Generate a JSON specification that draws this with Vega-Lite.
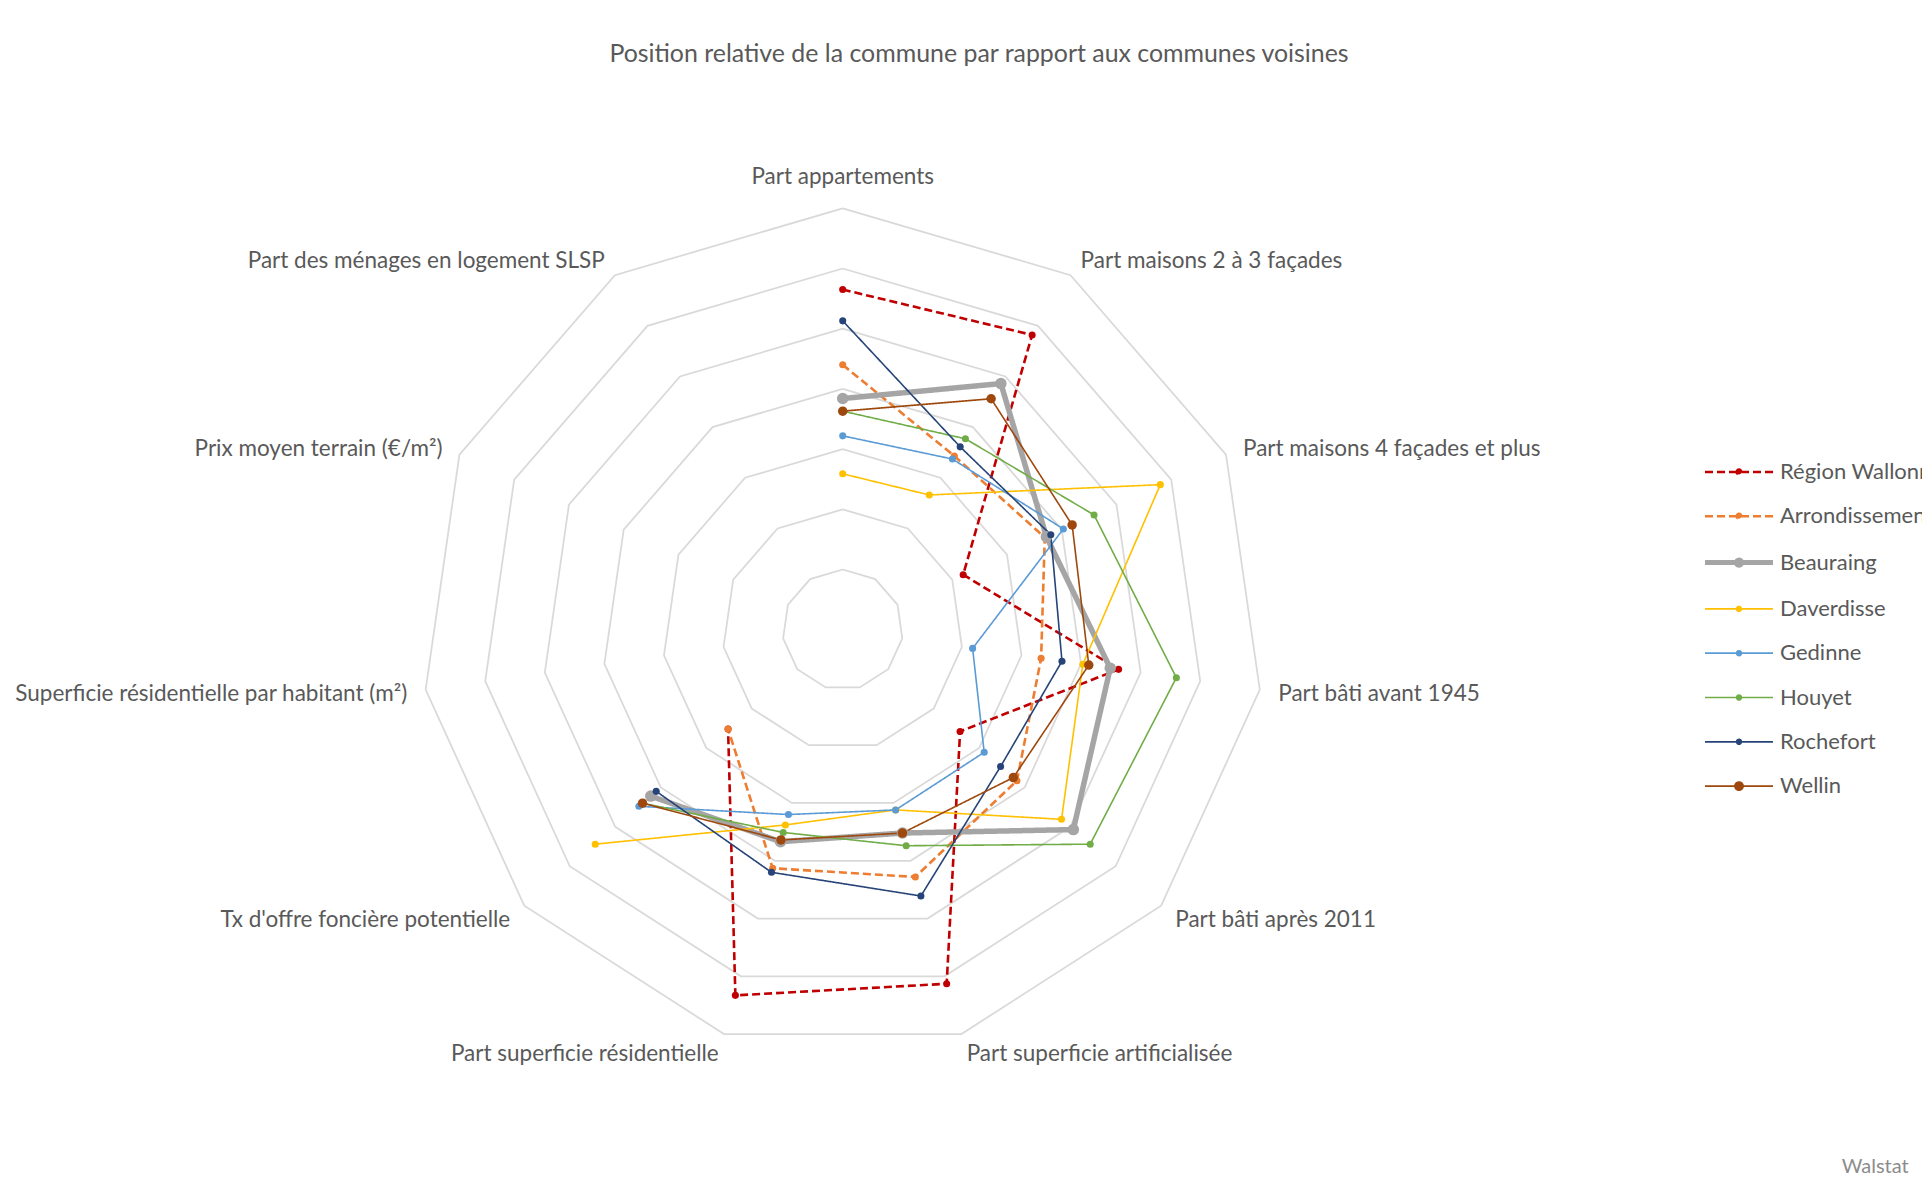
{
  "$schema": "https://vega.github.io/schema/vega-lite/v6.json",
  "width": 1922,
  "height": 1107,
  "autosize": {"type": "none"},
  "padding": {"top": 75, "left": 0, "right": 0, "bottom": 0},
  "config": {"view": {"stroke": null}, "font": "Lato"},
  "title": {
    "text": "Position relative de la commune par rapport aux communes voisines",
    "font": "Lato", "fontSize": 24.9, "fontWeight": "normal", "color": "#595959",
    "anchor": "middle", "frame": "group", "dx": 18, "offset": 8
  },
  "datasets": {
    "valeurs": [
      {"serie": "Région Wallonne", "k": 0, "v": 5.65}, {"serie": "Région Wallonne", "k": 1, "v": 5.82}, {"serie": "Région Wallonne", "k": 2, "v": 2.20}, {"serie": "Région Wallonne", "k": 3, "v": 4.63}, {"serie": "Région Wallonne", "k": 4, "v": 2.58}, {"serie": "Région Wallonne", "k": 5, "v": 6.13}, {"serie": "Région Wallonne", "k": 6, "v": 6.33}, {"serie": "Région Wallonne", "k": 7, "v": 2.52},
      {"serie": "Arrondissement de Dinant", "k": 0, "v": 4.40}, {"serie": "Arrondissement de Dinant", "k": 1, "v": 3.43}, {"serie": "Arrondissement de Dinant", "k": 2, "v": 3.69}, {"serie": "Arrondissement de Dinant", "k": 3, "v": 3.33}, {"serie": "Arrondissement de Dinant", "k": 4, "v": 3.83}, {"serie": "Arrondissement de Dinant", "k": 5, "v": 4.28}, {"serie": "Arrondissement de Dinant", "k": 6, "v": 4.13}, {"serie": "Arrondissement de Dinant", "k": 7, "v": 2.52},
      {"serie": "Beauraing", "k": 0, "v": 3.84}, {"serie": "Beauraing", "k": 1, "v": 4.86}, {"serie": "Beauraing", "k": 2, "v": 3.72}, {"serie": "Beauraing", "k": 3, "v": 4.49}, {"serie": "Beauraing", "k": 4, "v": 5.07}, {"serie": "Beauraing", "k": 5, "v": 3.52}, {"serie": "Beauraing", "k": 6, "v": 3.67}, {"serie": "Beauraing", "k": 7, "v": 4.22},
      {"serie": "Daverdisse", "k": 0, "v": 2.59}, {"serie": "Daverdisse", "k": 1, "v": 2.66}, {"serie": "Daverdisse", "k": 2, "v": 5.80}, {"serie": "Daverdisse", "k": 3, "v": 4.03}, {"serie": "Daverdisse", "k": 4, "v": 4.81}, {"serie": "Daverdisse", "k": 5, "v": 3.12}, {"serie": "Daverdisse", "k": 6, "v": 3.38}, {"serie": "Daverdisse", "k": 7, "v": 5.44},
      {"serie": "Gedinne", "k": 0, "v": 3.22}, {"serie": "Gedinne", "k": 1, "v": 3.37}, {"serie": "Gedinne", "k": 2, "v": 4.03}, {"serie": "Gedinne", "k": 3, "v": 2.18}, {"serie": "Gedinne", "k": 4, "v": 3.11}, {"serie": "Gedinne", "k": 5, "v": 3.12}, {"serie": "Gedinne", "k": 6, "v": 3.20}, {"serie": "Gedinne", "k": 7, "v": 4.48},
      {"serie": "Houyet", "k": 0, "v": 3.63}, {"serie": "Houyet", "k": 1, "v": 3.77}, {"serie": "Houyet", "k": 2, "v": 4.59}, {"serie": "Houyet", "k": 3, "v": 5.60}, {"serie": "Houyet", "k": 4, "v": 5.44}, {"serie": "Houyet", "k": 5, "v": 3.74}, {"serie": "Houyet", "k": 6, "v": 3.51}, {"serie": "Houyet", "k": 7, "v": 4.40},
      {"serie": "Rochefort", "k": 0, "v": 5.13}, {"serie": "Rochefort", "k": 1, "v": 3.61}, {"serie": "Rochefort", "k": 2, "v": 3.80}, {"serie": "Rochefort", "k": 3, "v": 3.68}, {"serie": "Rochefort", "k": 4, "v": 3.47}, {"serie": "Rochefort", "k": 5, "v": 4.61}, {"serie": "Rochefort", "k": 6, "v": 4.20}, {"serie": "Rochefort", "k": 7, "v": 4.10},
      {"serie": "Wellin", "k": 0, "v": 3.63}, {"serie": "Wellin", "k": 1, "v": 4.56}, {"serie": "Wellin", "k": 2, "v": 4.19}, {"serie": "Wellin", "k": 3, "v": 4.13}, {"serie": "Wellin", "k": 4, "v": 3.75}, {"serie": "Wellin", "k": 5, "v": 3.52}, {"serie": "Wellin", "k": 6, "v": 3.64}, {"serie": "Wellin", "k": 7, "v": 4.40}
    ],
    "anneaux": [
      {"niveau": 1, "k": [0,1,2,3,4,5,6,7,8,9,10,11]},
      {"niveau": 2, "k": [0,1,2,3,4,5,6,7,8,9,10,11]},
      {"niveau": 3, "k": [0,1,2,3,4,5,6,7,8,9,10,11]},
      {"niveau": 4, "k": [0,1,2,3,4,5,6,7,8,9,10,11]},
      {"niveau": 5, "k": [0,1,2,3,4,5,6,7,8,9,10,11]},
      {"niveau": 6, "k": [0,1,2,3,4,5,6,7,8,9,10,11]},
      {"niveau": 7, "k": [0,1,2,3,4,5,6,7,8,9,10,11]}
    ],
    "axes": [
      {"axe": "Part appartements", "k": 0},
      {"axe": "Part maisons 2 à 3 façades", "k": 1},
      {"axe": "Part maisons 4 façades et plus", "k": 2},
      {"axe": "Part bâti avant 1945", "k": 3},
      {"axe": "Part bâti après 2011", "k": 4},
      {"axe": "Part superficie artificialisée", "k": 5},
      {"axe": "Part superficie résidentielle", "k": 6},
      {"axe": "Tx d'offre foncière potentielle", "k": 7},
      {"axe": "Superficie résidentielle par habitant (m²)", "k": 8},
      {"axe": "Prix moyen terrain (€/m²)", "k": 9},
      {"axe": "Part des ménages en logement SLSP", "k": 10}
    ],
    "source": [{"texte": "Walstat"}]
  },
  "layer": [
    {
      "data": {"name": "anneaux"},
      "transform": [
        {"flatten": ["k"]},
        {"calculate": "datum.k * 2 * PI / 11", "as": "theta"},
        {"calculate": "datum.niveau * sin(datum.theta)", "as": "px"},
        {"calculate": "datum.niveau * cos(datum.theta)", "as": "py"}
      ],
      "mark": {"type": "line", "color": "#D9D9D9", "strokeWidth": 1.75},
      "encoding": {
        "x": {"field": "px", "type": "quantitative", "scale": {"domain": [-14.0, 17.93], "nice": false, "zero": false}, "axis": null},
        "y": {"field": "py", "type": "quantitative", "scale": {"domain": [-9.174, 9.214], "nice": false, "zero": false}, "axis": null},
        "detail": {"field": "niveau", "type": "nominal"},
        "order": {"field": "k", "type": "quantitative"}
      }
    },
    {
      "data": {"name": "valeurs"},
      "transform": [
        {"calculate": "datum.k * 2 * PI / 11", "as": "theta"},
        {"calculate": "datum.v * sin(datum.theta)", "as": "px"},
        {"calculate": "datum.v * cos(datum.theta)", "as": "py"}
      ],
      "mark": {"type": "line", "strokeJoin": "round"},
      "encoding": {
        "x": {"field": "px", "type": "quantitative", "scale": {"domain": [-14.0, 17.93], "nice": false, "zero": false}, "axis": null},
        "y": {"field": "py", "type": "quantitative", "scale": {"domain": [-9.174, 9.214], "nice": false, "zero": false}, "axis": null},
        "order": {"field": "k", "type": "quantitative"},
        "color": {
          "field": "serie", "type": "nominal",
          "scale": {
            "domain": ["Région Wallonne", "Arrondissement de Dinant", "Beauraing", "Daverdisse", "Gedinne", "Houyet", "Rochefort", "Wellin"],
            "range": ["#C00000", "#ED7D31", "#A5A5A5", "#FFC000", "#5B9BD5", "#70AD47", "#264478", "#9E480E"]
          },
          "legend": {
            "orient": "none", "legendX": 1728, "legendY": 386, "title": null,
            "labelFont": "Lato", "labelFontSize": 22, "labelColor": "#595959", "labelLimit": 0, "labelOffset": 30,
            "symbolSize": 4624, "symbolType": "stroke", "rowPadding": 22.3, "padding": 0,
            "encoding": {
              "symbols": {
                "shape": {"value": {"expr": "datum.value === 'Beauraing' ? 'M-1,0H1M-0.075,0A0.075,0.075,0,1,1,0.075,0A0.075,0.075,0,1,1,-0.075,0Z' : datum.value === 'Wellin' ? 'M-1,0H1M-0.12,0A0.12,0.12,0,1,1,0.12,0A0.12,0.12,0,1,1,-0.12,0Z' : 'M-1,0H1M-0.07,0A0.07,0.07,0,1,1,0.07,0A0.07,0.07,0,1,1,-0.07,0Z'"}},
                "fill": {"value": {"expr": "scale('color', datum.value)"}},
                "fillOpacity": {"value": 1},
                "strokeWidth": {"value": {"expr": "datum.value === 'Beauraing' ? 5 : (datum.value === 'Région Wallonne' || datum.value === 'Arrondissement de Dinant') ? 2.6 : 1.7"}},
                "strokeDash": {"value": {"expr": "(datum.value === 'Région Wallonne' || datum.value === 'Arrondissement de Dinant') ? [5,3] : [1,0]"}}
              }
            }
          }
        },
        "strokeDash": {
          "field": "serie", "type": "nominal",
          "scale": {
            "domain": ["Région Wallonne", "Arrondissement de Dinant", "Beauraing", "Daverdisse", "Gedinne", "Houyet", "Rochefort", "Wellin"],
            "range": [[8,4], [8,4], [1,0], [1,0], [1,0], [1,0], [1,0], [1,0]]
          },
          "legend": null
        },
        "strokeWidth": {
          "condition": [
            {"test": "datum.serie === 'Beauraing'", "value": 5.5},
            {"test": "datum.serie === 'Région Wallonne' || datum.serie === 'Arrondissement de Dinant'", "value": 2.6}
          ],
          "value": 1.6
        }
      }
    },
    {
      "data": {"name": "valeurs"},
      "transform": [
        {"calculate": "datum.k * 2 * PI / 11", "as": "theta"},
        {"calculate": "datum.v * sin(datum.theta)", "as": "px"},
        {"calculate": "datum.v * cos(datum.theta)", "as": "py"}
      ],
      "mark": {"type": "circle", "opacity": 1},
      "encoding": {
        "x": {"field": "px", "type": "quantitative", "scale": {"domain": [-14.0, 17.93], "nice": false, "zero": false}, "axis": null},
        "y": {"field": "py", "type": "quantitative", "scale": {"domain": [-9.174, 9.214], "nice": false, "zero": false}, "axis": null},
        "color": {"field": "serie", "type": "nominal"},
        "size": {
          "condition": [
            {"test": "datum.serie === 'Beauraing'", "value": 132},
            {"test": "datum.serie === 'Wellin'", "value": 90}
          ],
          "value": 50
        }
      }
    },
    {
      "data": {"name": "axes"},
      "transform": [
        {"filter": "datum.k >= 1 && datum.k <= 5"},
        {"calculate": "datum.k * 2 * PI / 11", "as": "theta"},
        {"calculate": "7.31 * sin(datum.theta)", "as": "px"},
        {"calculate": "7.31 * cos(datum.theta)", "as": "py"}
      ],
      "mark": {"type": "text", "align": "left", "baseline": "middle", "dy": 2, "font": "Lato", "fontSize": 22.5, "color": "#595959"},
      "encoding": {
        "x": {"field": "px", "type": "quantitative"},
        "y": {"field": "py", "type": "quantitative"},
        "text": {"field": "axe", "type": "nominal"}
      }
    },
    {
      "data": {"name": "axes"},
      "transform": [
        {"filter": "datum.k >= 6"},
        {"calculate": "datum.k * 2 * PI / 11", "as": "theta"},
        {"calculate": "7.31 * sin(datum.theta)", "as": "px"},
        {"calculate": "7.31 * cos(datum.theta)", "as": "py"}
      ],
      "mark": {"type": "text", "align": "right", "baseline": "middle", "dy": 2, "font": "Lato", "fontSize": 22.5, "color": "#595959"},
      "encoding": {
        "x": {"field": "px", "type": "quantitative"},
        "y": {"field": "py", "type": "quantitative"},
        "text": {"field": "axe", "type": "nominal"}
      }
    },
    {
      "data": {"name": "axes"},
      "transform": [
        {"filter": "datum.k === 0"},
        {"calculate": "0", "as": "px"},
        {"calculate": "7.56", "as": "py"}
      ],
      "mark": {"type": "text", "align": "center", "baseline": "middle", "dy": 2, "font": "Lato", "fontSize": 22.5, "color": "#595959"},
      "encoding": {
        "x": {"field": "px", "type": "quantitative"},
        "y": {"field": "py", "type": "quantitative"},
        "text": {"field": "axe", "type": "nominal"}
      }
    },
    {
      "data": {"name": "source"},
      "mark": {"type": "text", "align": "right", "baseline": "middle", "font": "Lato", "fontSize": 20, "color": "#8C8C8C"},
      "encoding": {
        "x": {"datum": 17.71, "type": "quantitative"},
        "y": {"datum": -8.93, "type": "quantitative"},
        "text": {"field": "texte", "type": "nominal"}
      }
    }
  ]
}
